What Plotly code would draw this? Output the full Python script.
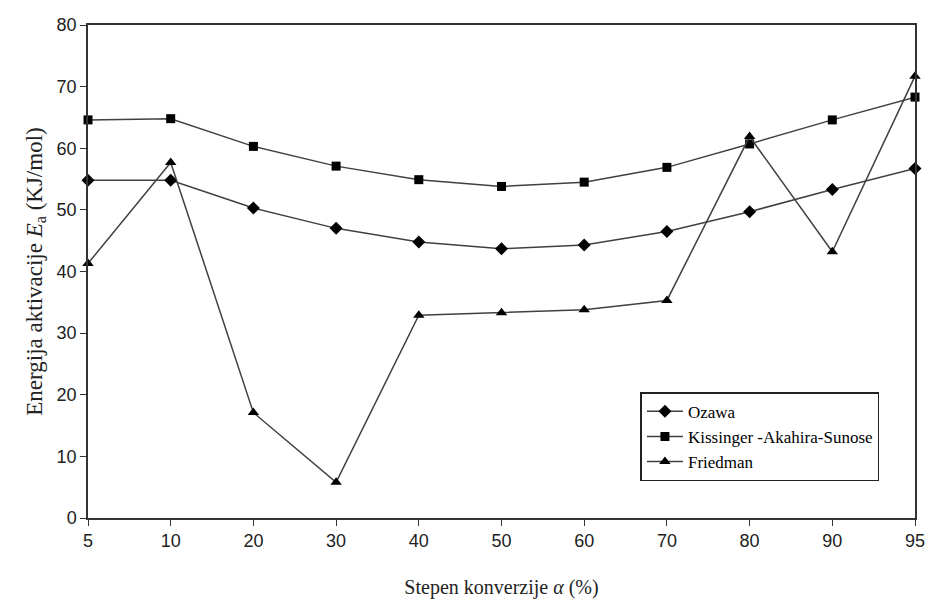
import plotly.graph_objects as go

conversion = ["5", "10", "20", "30", "40", "50", "60", "70", "80", "90", "95"]
ozawa = [54.8, 54.8, 50.3, 47.0, 44.8, 43.7, 44.3, 46.5, 49.7, 53.3, 56.7]
kas = [64.6, 64.8, 60.3, 57.1, 54.9, 53.8, 54.5, 56.9, 60.7, 64.6, 68.3]
friedman = [41.3, 57.7, 17.1, 5.8, 32.9, 33.3, 33.8, 35.3, 61.9, 43.2, 71.7]

series = [
    ("Ozawa", ozawa, "diamond", 10),
    ("Kissinger -Akahira-Sunose", kas, "square", 9),
    ("Friedman", friedman, "triangle-up", 10),
]

SERIF = "'Liberation Serif', 'Times New Roman', 'DejaVu Serif', serif"
SANS = "'Liberation Sans', Arial, sans-serif"

fig = go.Figure()
for name, vals, sym, sz in series:
    fig.add_trace(go.Scatter(
        x=conversion, y=vals, name=name, mode="lines+markers",
        line=dict(color="#404040", width=1.5),
        marker=dict(symbol=sym, size=sz, color="black"),
        cliponaxis=False,
    ))

fig.update_layout(
    width=937, height=610,
    margin=dict(l=88, r=12, t=25, b=92),
    paper_bgcolor="white", plot_bgcolor="white",
    showlegend=True,
    legend=dict(
        x=0.668, y=0.255, xanchor="left", yanchor="top",
        bordercolor="#222", borderwidth=1.5, bgcolor="white",
        font=dict(family=SERIF, size=17, color="black"),
        itemwidth=36, tracegroupgap=4,
    ),
    xaxis=dict(
        type="category", range=[0, 10],
        showline=True, linecolor="#333", linewidth=1.5, mirror=True,
        ticks="outside", ticklen=6, tickcolor="#333",
        showgrid=False, zeroline=False,
        tickfont=dict(family=SANS, size=18, color="#222"),
        title=dict(text="Stepen konverzije <i>α</i> (%)", standoff=30,
                   font=dict(family=SERIF, size=20, color="#222")),
    ),
    yaxis=dict(
        range=[0, 80], dtick=10,
        showline=True, linecolor="#333", linewidth=1.5, mirror=True,
        ticks="outside", ticklen=6, tickcolor="#333",
        showgrid=False, zeroline=False,
        tickfont=dict(family=SANS, size=18, color="#222"),
        title=dict(text="Energija aktivacije <i>E</i><sub>a</sub> (KJ/mol)", standoff=8,
                   font=dict(family=SERIF, size=23, color="#222")),
    ),
)

fig.write_html("out.html")
